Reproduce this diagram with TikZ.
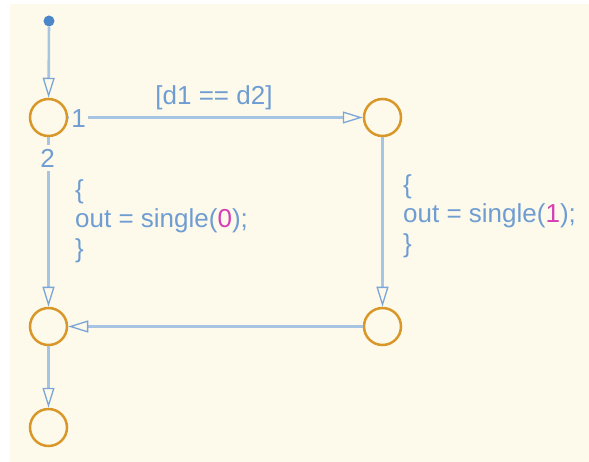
\documentclass[tikz,border=0pt]{standalone}
\usepackage{fontspec}
\setmainfont{Liberation Sans}
\usetikzlibrary{arrows.meta}
\definecolor{bgcream}{HTML}{FEFAEB}
\definecolor{linkblue}{HTML}{A7C4E2}
\definecolor{tipblue}{HTML}{7BA6D8}
\definecolor{txtblue}{HTML}{6F9DD2}
\definecolor{stateorange}{HTML}{D9972A}
\definecolor{numpink}{HTML}{D43FB5}
\definecolor{dotblue}{HTML}{4A86C8}
\tikzset{
  junction/.style={circle, draw=stateorange, line width=2.5pt, minimum size=37pt, inner sep=0pt, fill=bgcream},
  initdot/.style={circle, fill=dotblue, minimum size=11pt, inner sep=0pt},
  conn/.style={draw=linkblue, line width=2.6pt,
    -{Triangle[open, length=20pt, width=12pt, line width=1.3pt, color=tipblue]}},
  lbl/.style={text=txtblue, font=\fontsize{26}{29.5}\selectfont, inner sep=0pt},
  portlbl/.style={lbl, fill=bgcream, inner xsep=2pt, inner ysep=4pt},
  actionlbl/.style={lbl, align=left, anchor=west}
}
\begin{document}
\begin{tikzpicture}[x=1pt, y=-1pt]
\useasboundingbox (0,0) rectangle (589,462);
\fill[white] (0,0) rectangle (589,462);
\fill[bgcream] (10,4) rectangle (589,462);

\node[initdot] (init) at (49,21) {};
\node[junction] (c1) at (48.5,117.5) {};
\node[junction] (c2) at (382.5,117.5) {};
\node[junction] (c3) at (48.5,326.5) {};
\node[junction] (c4) at (382.5,326.5) {};
\node[junction] (c5) at (48.5,427.5) {};

\draw[conn] (init) -- (c1);
\draw[conn] (c1) -- (c2);
\draw[conn] (c1) -- (c3);
\draw[conn] (c2) -- (c4);
\draw[conn] (c4) -- (c3);
\draw[conn] (c3) -- (c5);

\node[portlbl] (p1) at (78.5,119) {1};
\node[portlbl] (p2) at (47.5,158) {2};

\node[lbl] (guard) at (214,97.5) {[d1 == d2]};
\node[actionlbl] (act0) at (75,221) {\{\\out = single(\textcolor{numpink}{0});\\\}};
\node[actionlbl] (act1) at (403,216) {\{\\out = single(\textcolor{numpink}{1});\\\}};
\end{tikzpicture}
\end{document}
